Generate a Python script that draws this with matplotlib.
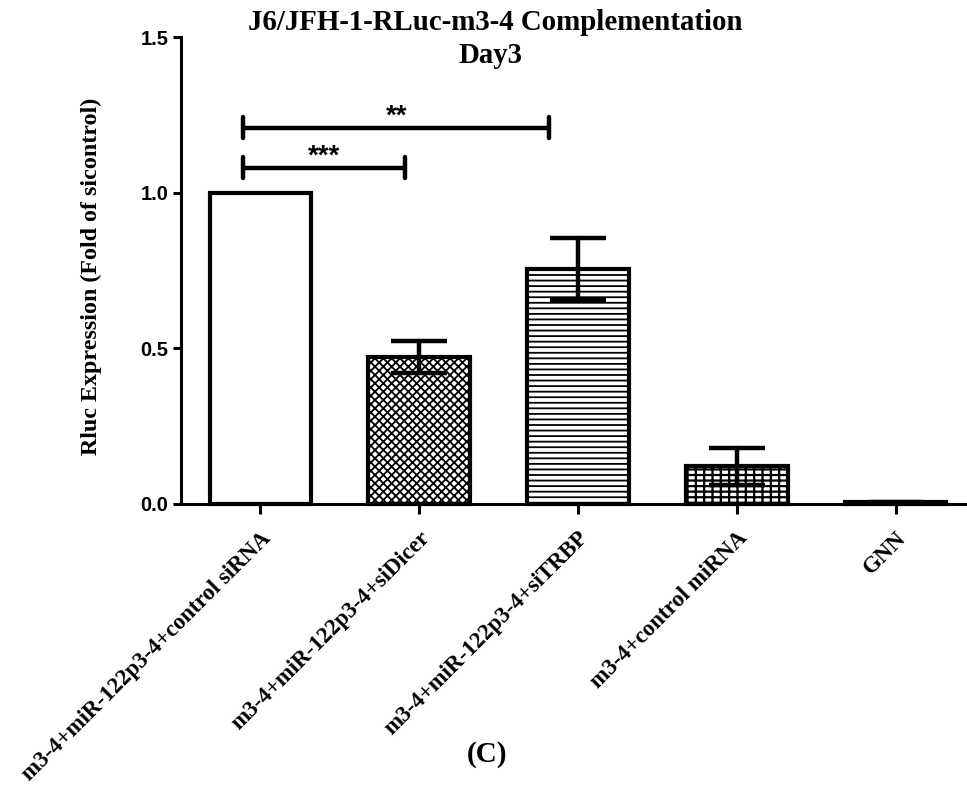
import matplotlib
matplotlib.use("Agg")
import matplotlib.pyplot as plt
import numpy as np

categories = ["m3-4+miR-122p3-4+control siRNA", "m3-4+miR-122p3-4+siDicer",
              "m3-4+miR-122p3-4+siTRBP", "m3-4+control miRNA", "GNN"]
values = [1.0, 0.472, 0.755, 0.121, 0.005]
errors = [0.0, 0.051, 0.100, 0.060, 0.003]
yticks = [0.0, 0.5, 1.0, 1.5]
ytick_labels = ["0.0", "0.5", "1.0", "1.5"]
# significance brackets: (x start, x end, height, label)
brackets = [(-0.107, 0.913, 1.081, "***"), (-0.107, 1.82, 1.21, "**")]
title_line1 = "J6/JFH-1-RLuc-m3-4 Complementation"
title_line2 = "Day3"
ylabel = "Rluc Expression (Fold of sicontrol)"
panel_label = "(C)"

fig = plt.figure(figsize=(9.67, 7.9), dpi=100)
ax = fig.add_axes([181/967, 1-504/790, 1-181/967, (504-37.3)/790])
x = np.arange(len(categories))
w = 0.64
lw = 3

def bar(i, face, hatch=None, hatch_lw=1.0, hatch_col='black'):
    if hatch:
        with plt.rc_context({'hatch.linewidth': hatch_lw}):
            b = ax.bar(x[i], values[i], w, facecolor=face, edgecolor=hatch_col, hatch=hatch,
                       linewidth=0, clip_on=False, zorder=2)
            for p in b:
                try:
                    p.set_hatch_linewidth(hatch_lw)
                except Exception:
                    pass
        ax.bar(x[i], values[i], w, facecolor='none', edgecolor='black', linewidth=lw,
               clip_on=False, zorder=2)
    else:
        ax.bar(x[i], values[i], w, facecolor=face, edgecolor='black', linewidth=lw,
               clip_on=False, zorder=2)

bar(0, 'white')
bar(1, 'white', hatch='xxxx', hatch_lw=1.3)
bar(2, 'white', hatch='---', hatch_lw=1.3)
bar(3, 'white', hatch='---||', hatch_lw=1.6)
bar(4, 'black')

eb = ax.errorbar(x[1:], values[1:], yerr=errors[1:], fmt='none', ecolor='black',
                 elinewidth=3.2, capsize=20, capthick=3.2, zorder=3, clip_on=False)
for c in eb[1]:
    c.set_solid_capstyle('round')
for c in eb[2]:
    c.set_capstyle('round')

for x0, x1, yb, lab in brackets:
    ax.plot([x0, x1], [yb, yb], color='black', lw=3.2, solid_capstyle='butt', clip_on=False)
    ax.plot([x0, x0], [yb - 0.033, yb + 0.033], color='black', lw=3.2,
            solid_capstyle='round', clip_on=False)
    ax.plot([x1, x1], [yb - 0.033, yb + 0.033], color='black', lw=3.2,
            solid_capstyle='round', clip_on=False)
    ax.text((x0 + x1) / 2, yb + 0.013, lab, ha='center', va='baseline',
            fontsize=20, fontweight='bold', family='Liberation Sans')

ax.set_xlim(-0.5, 4.45)
ax.set_ylim(0, 1.5)
ax.set_yticks(yticks)
ax.set_yticklabels(ytick_labels, fontsize=14.5, fontweight='bold', family='Liberation Sans')
ax.set_xticks(x)
ax.set_xticklabels(categories, rotation=45, ha='right', va='top', rotation_mode='anchor',
                   fontsize=16.5, fontweight='bold', family='Liberation Serif')
ax.tick_params(axis='y', length=6, width=2.2, pad=3)
ax.tick_params(axis='x', length=7, width=2.2, pad=10)
for s in ['top', 'right']:
    ax.spines[s].set_visible(False)
for s in ['left', 'bottom']:
    ax.spines[s].set_linewidth(2.2)

fig.text(91/967, 1-276/790, ylabel, rotation=90, ha='center', va='center',
         fontsize=17.3, fontweight='bold', family='Liberation Serif')
fig.text(495/967, 1-30/790, title_line1, ha='center', va='baseline',
         fontsize=20.8, fontweight='bold', family='Liberation Serif')
fig.text(490/967, 1-63/790, title_line2, ha='center', va='baseline',
         fontsize=20.8, fontweight='bold', family='Liberation Serif')
fig.text(487/967, 1-755/790, panel_label, ha='center', va='center', fontsize=21,
         fontweight='bold', family='Liberation Serif')

fig.savefig("out.png", dpi=100)
